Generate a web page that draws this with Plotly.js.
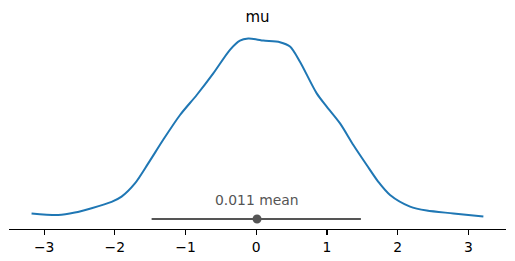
<!DOCTYPE html>
<html>
<head>
<meta charset="utf-8">
<script src="https://cdn.plot.ly/plotly-3.0.1.min.js"></script>
<style>html,body{margin:0;padding:0;background:#fff;}#chart{width:515px;height:261px;}</style>
</head>
<body>
<div id="chart"></div>
<script>
// KDE of the posterior of mu
const kdeX = [-3.178, -2.802, -2.566, -2.329, -2.046, -1.905, -1.716, -1.528, -1.316, -1.078, -0.842, -0.608, -0.372, -0.231, -0.113, 0.006, 0.099, 0.335, 0.477, 0.618, 0.855, 0.996, 1.185, 1.373, 1.562, 1.726, 1.892, 2.175, 2.411, 2.788, 3.212];
const kdeY = [0.014, 0.010, 0.016, 0.027, 0.043, 0.056, 0.089, 0.139, 0.198, 0.260, 0.310, 0.364, 0.423, 0.446, 0.451, 0.449, 0.446, 0.442, 0.431, 0.393, 0.314, 0.281, 0.239, 0.185, 0.135, 0.093, 0.060, 0.031, 0.021, 0.014, 0.006];
const hdiBounds = [-1.48, 1.48];
const meanValue = 0.011;
const meanLabel = "0.011 mean";
const titleText = "mu";
const tickVals = [-3, -2, -1, 0, 1, 2, 3];
const tickText = ["\u22123", "\u22122", "\u22121", "0", "1", "2", "3"];

const grey = "#555555";
const traces = [
  {x: kdeX, y: kdeY, mode: "lines", line: {color: "#1f77b4", width: 2, shape: "spline", smoothing: 0.8}, hoverinfo: "skip"},
  {x: hdiBounds, y: [0, 0], mode: "lines", line: {color: grey, width: 2}, hoverinfo: "skip"},
  {x: [meanValue], y: [0], mode: "markers", marker: {color: grey, size: 9}, hoverinfo: "skip"}
];
const layout = {
  width: 515, height: 261,
  margin: {l: 9, r: 9, t: 29, b: 32},
  showlegend: false,
  paper_bgcolor: "#fff", plot_bgcolor: "#fff",
  font: {family: "DejaVu Sans", color: "#000"},
  title: {text: titleText, font: {size: 15, color: "#000"}, x: 0.5, xanchor: "center", y: 0.935, yanchor: "middle"},
  xaxis: {range: [-3.497, 3.532], tickmode: "array", tickvals: tickVals, ticktext: tickText,
    ticks: "outside", ticklen: 5, tickwidth: 1.1, tickcolor: "#000", showline: true, linecolor: "#000", linewidth: 1.1,
    showgrid: false, zeroline: false, tickfont: {size: 13.9, color: "#000"}},
  yaxis: {range: [-0.025, 0.475], visible: false, showgrid: false, zeroline: false},
  annotations: [{x: meanValue, y: 0.0475, xref: "x", yref: "y", text: meanLabel, showarrow: false,
    xanchor: "center", yanchor: "middle", font: {size: 13.9, color: grey}}]
};
Plotly.newPlot("chart", traces, layout, {staticPlot: true, displayModeBar: false});
</script>
</body>
</html>
